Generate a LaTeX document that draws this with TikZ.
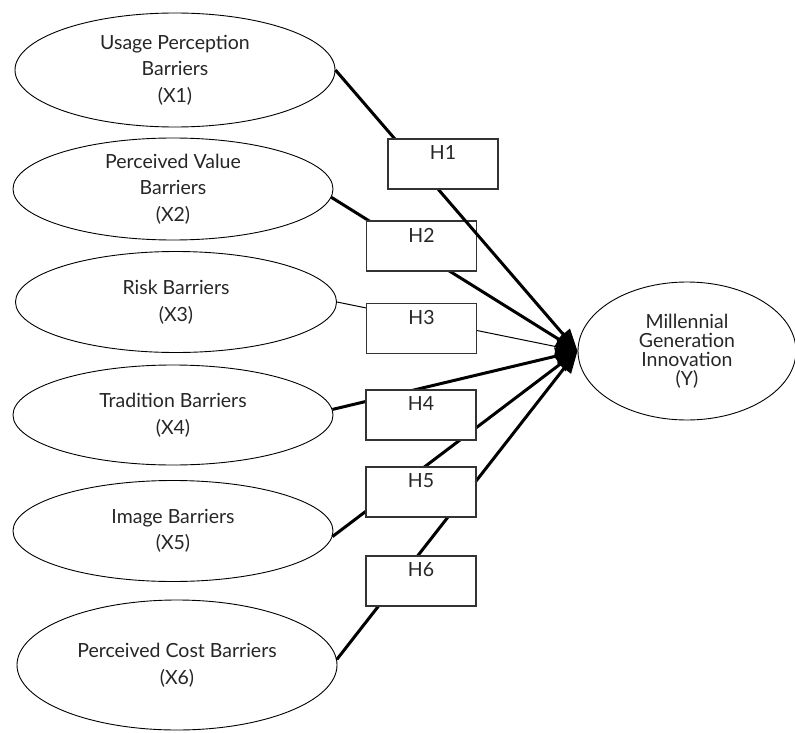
\documentclass[tikz,border=0pt]{standalone}
\usepackage{fontspec}
\setmainfont{Lato}
\usetikzlibrary{shapes.geometric,arrows.meta}
\pgfdeclarelayer{background}
\pgfdeclarelayer{foreground}
\pgfsetlayers{background,main,foreground}
\begin{document}
\begin{tikzpicture}[x=1pt,y=-1pt,
  ell/.style={draw=black,line width=0.9pt,ellipse,inner sep=0pt,align=center,
    font=\fontsize{19.5}{26.5}\selectfont,text=black!85},
  hyp/.style={draw=black!80,line width=1.1pt,fill=white,rectangle,
    minimum width=110pt,minimum height=50pt,inner sep=0pt},
  hyplab/.style={anchor=north,yshift=-4pt,font=\fontsize{19.5}{22}\selectfont,text=black!85},
  conn/.style={line width=3pt,-{Triangle[length=22pt,width=17pt]}},
  thinconn/.style={line width=1pt,-{Triangle[length=22pt,width=17pt]}}]
\useasboundingbox (0,0) rectangle (795,733);

\node[ell,minimum width=320pt,minimum height=114pt] (X1) at (175,70) {Usage Perception\\Barriers\\(X1)};
\node[ell,minimum width=320pt,minimum height=102pt] (X2) at (173,189) {Perceived Value\\Barriers\\(X2)};
\node[ell,minimum width=321pt,minimum height=101pt] (X3) at (176,302) {Risk Barriers\\(X3)};
\node[ell,minimum width=320pt,minimum height=100pt] (X4) at (173,415) {Tradition Barriers\\(X4)};
\node[ell,minimum width=320pt,minimum height=101pt] (X5) at (173,531) {Image Barriers\\(X5)};
\node[ell,minimum width=320pt,minimum height=130pt] (X6) at (177,665) {Perceived Cost Barriers\\(X6)};
\node[ell,minimum width=218pt,minimum height=138pt,font=\fontsize{19.5}{19}\selectfont] (Y) at (687,351) {Millennial\\Generation\\Innovation\\(Y)};

\begin{pgfonlayer}{background}
\draw[conn] (X2.-3) -- (Y.west);
\draw[thinconn] (X3.0) -- (Y.west);
\draw[conn] (X4.2) -- (Y.west);
\draw[conn] (X5.-2.5) -- (Y.west);
\draw[conn] (X6.2.5) -- (Y.west);
\end{pgfonlayer}

\node[hyp,label={[hyplab]north:H2}] (H2) at (421.5,246) {};
\node[hyp,label={[hyplab]north:H3}] (H3) at (421.5,328.5) {};
\node[hyp,label={[hyplab]north:H4}] (H4) at (421,415) {};
\node[hyp,label={[hyplab]north:H5}] (H5) at (421,492) {};
\node[hyp,label={[hyplab]north:H6}] (H6) at (421,581) {};

\draw[conn] (X1.0) -- (Y.west);

\begin{pgfonlayer}{foreground}
\node[hyp,label={[hyplab]north:H1}] (H1) at (443,164) {};
\end{pgfonlayer}
\end{tikzpicture}
\end{document}
